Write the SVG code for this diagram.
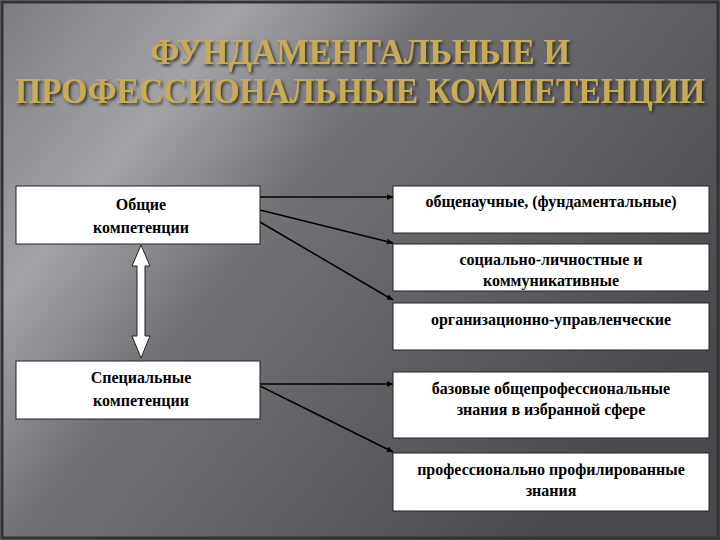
<svg xmlns="http://www.w3.org/2000/svg" width="720" height="540" viewBox="0 0 720 540">
<defs>
<linearGradient id="bg" x1="0" y1="0" x2="1" y2="0.6">
<stop offset="0" stop-color="#7c7c80"/>
<stop offset="0.25" stop-color="#a4a4a8"/>
<stop offset="0.45" stop-color="#727276"/>
<stop offset="1" stop-color="#4a4a4e"/>
</linearGradient>
<marker id="ah" viewBox="0 0 10 10" refX="9" refY="5" markerWidth="7" markerHeight="7" orient="auto" markerUnits="userSpaceOnUse">
<path d="M0,1 L10,5 L0,9 z" fill="#000"/>
</marker>
<filter id="sh"><feDropShadow dx="2" dy="2" stdDeviation="1.5" flood-color="#222" flood-opacity="0.8"/></filter>
</defs>
<style>
.box{fill:#fff;stroke:#222;stroke-width:1}
.t{font-family:"Liberation Serif","Times New Roman","DejaVu Serif",serif;font-weight:bold;font-size:16px;fill:#000;text-anchor:middle}
.ttl{font-family:"Liberation Serif","Times New Roman","DejaVu Serif",serif;font-weight:bold;font-size:36px;fill:#c8ab55;text-anchor:middle}
.c{stroke:#000;stroke-width:1.5;fill:none;marker-end:url(#ah)}
</style>
<rect width="720" height="540" fill="url(#bg)"/>
<rect x="2" y="2" width="716" height="536" fill="none" stroke="#333" stroke-width="3"/>
<g id="title" filter="url(#sh)">
<text class="ttl" x="360" y="64" textLength="420" lengthAdjust="spacingAndGlyphs">ФУНДАМЕНТАЛЬНЫЕ И</text>
<text class="ttl" x="360" y="103" textLength="690" lengthAdjust="spacingAndGlyphs">ПРОФЕССИОНАЛЬНЫЕ КОМПЕТЕНЦИИ</text>
</g>
<g id="connectors">
<line class="c" x1="260" y1="197" x2="393" y2="197"/>
<line class="c" x1="260" y1="210" x2="393" y2="243"/>
<line class="c" x1="260" y1="222" x2="393" y2="300"/>
<line class="c" x1="260" y1="384" x2="393" y2="384"/>
<line class="c" x1="260" y1="386" x2="393" y2="452"/>
<path d="M141,245 L150,266 L145,266 L145,336 L150,336 L141,358 L132,336 L137,336 L137,266 L132,266 z" fill="#fff" stroke="#222" stroke-width="1"/>
</g>
<g id="n1"><rect class="box" x="16" y="186" width="244" height="58"/>
<text class="t" x="141" y="210">Общие</text><text class="t" x="141" y="233">компетенции</text></g>
<g id="n2"><rect class="box" x="16" y="361" width="244" height="58"/>
<text class="t" x="141" y="383">Специальные</text><text class="t" x="141" y="406">компетенции</text></g>
<g id="r1"><rect class="box" x="393" y="186" width="316" height="47"/>
<text class="t" x="551" y="207">общенаучные, (фундаментальные)</text></g>
<g id="r2"><rect class="box" x="393" y="244" width="316" height="47"/>
<text class="t" x="551" y="265">социально-личностные и</text><text class="t" x="551" y="286">коммуникативные</text></g>
<g id="r3"><rect class="box" x="393" y="303" width="316" height="47"/>
<text class="t" x="551" y="325">организационно-управленческие</text></g>
<g id="r4"><rect class="box" x="393" y="372" width="316" height="66"/>
<text class="t" x="551" y="394">базовые общепрофессиональные</text><text class="t" x="551" y="415">знания в избранной сфере</text></g>
<g id="r5"><rect class="box" x="393" y="453" width="316" height="58"/>
<text class="t" x="551" y="475">профессионально профилированные</text><text class="t" x="551" y="496">знания</text></g>
</svg>
